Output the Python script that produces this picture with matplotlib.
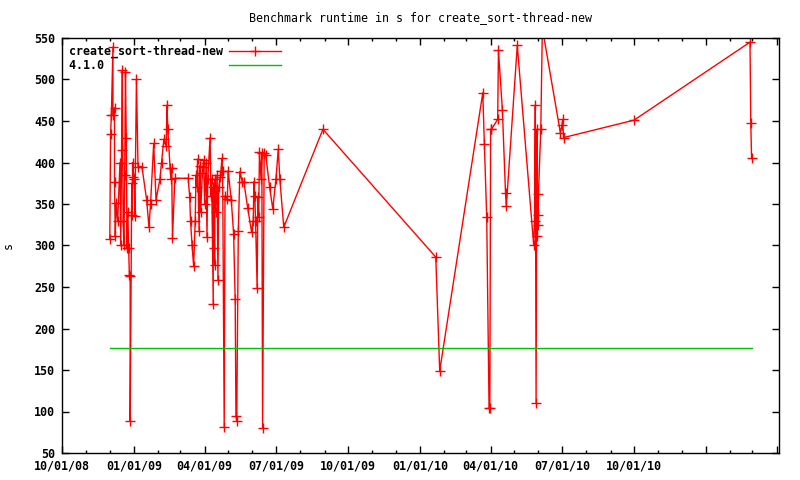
import numpy as np
import pandas as pd
import matplotlib
matplotlib.use("Agg")
import matplotlib.pyplot as plt
import matplotlib.dates as mdates

# benchmark runs (date, runtime in s), in file order
run_dates = [
    "2008-12-01", "2008-12-02", "2008-12-03", "2008-12-05", "2008-12-05", "2008-12-07",
    "2008-12-07", "2008-12-08", "2008-12-09", "2008-12-11", "2008-12-14", "2008-12-15",
    "2008-12-16", "2008-12-17", "2008-12-18", "2008-12-19", "2008-12-20", "2008-12-21",
    "2008-12-22", "2008-12-23", "2008-12-24", "2008-12-25", "2008-12-26", "2008-12-27",
    "2008-12-27", "2008-12-29", "2008-12-29", "2008-12-30", "2008-12-30",
    "2009-01-01", "2009-01-02", "2009-01-04", "2009-01-06", "2009-01-11", "2009-01-17",
    "2009-01-20", "2009-01-22", "2009-01-26", "2009-01-29", "2009-02-03", "2009-02-05",
    "2009-02-08", "2009-02-11", "2009-02-12", "2009-02-13", "2009-02-16", "2009-02-17",
    "2009-02-18", "2009-02-19", "2009-02-22", "2009-03-11", "2009-03-13", "2009-03-14",
    "2009-03-16", "2009-03-18", "2009-03-20", "2009-03-21", "2009-03-22", "2009-03-23",
    "2009-03-25", "2009-03-26", "2009-03-27", "2009-03-29", "2009-03-30", "2009-03-31",
    "2009-04-01", "2009-04-03", "2009-04-04", "2009-04-05", "2009-04-08", "2009-04-09",
    "2009-04-10", "2009-04-12", "2009-04-12", "2009-04-13", "2009-04-14", "2009-04-14",
    "2009-04-15", "2009-04-17", "2009-04-18", "2009-04-19", "2009-04-21", "2009-04-22",
    "2009-04-23", "2009-04-24", "2009-04-26", "2009-04-27", "2009-04-30", "2009-05-01",
    "2009-05-05", "2009-05-08", "2009-05-10", "2009-05-11", "2009-05-12",
    "2009-05-14", "2009-05-16", "2009-05-19", "2009-05-21", "2009-05-26", "2009-05-31",
    "2009-06-02", "2009-06-03", "2009-06-04", "2009-06-05", "2009-06-07", "2009-06-08",
    "2009-06-09", "2009-06-10", "2009-06-12", "2009-06-13", "2009-06-14",
    "2009-06-16", "2009-06-18", "2009-06-23", "2009-06-27", "2009-07-01", "2009-07-04",
    "2009-07-06", "2009-07-11", "2009-08-30", "2010-01-21", "2010-01-26",
    "2010-03-22", "2010-03-24", "2010-03-27", "2010-03-30", "2010-03-31",
    "2010-04-01", "2010-04-02", "2010-04-10", "2010-04-11",
    "2010-04-16", "2010-04-20", "2010-04-21", "2010-05-05",
    "2010-05-26", "2010-05-27", "2010-05-28", "2010-05-29", "2010-05-30", "2010-05-30",
    "2010-05-31", "2010-06-01", "2010-06-01", "2010-06-04", "2010-06-06",
    "2010-06-29", "2010-07-01", "2010-07-02", "2010-07-03", "2010-10-01", "2011-02-26",
    "2011-02-27", "2011-02-28",
]
runtimes = [
    308, 434, 457, 539, 457, 466,
    376, 311, 351, 330, 400, 300,
    415, 511, 330, 300, 385, 509,
    430, 297, 340, 297, 265, 263,
    88, 375, 337, 383, 400,
    380, 335, 500, 395, 395, 355,
    322, 350, 423, 355, 380, 400,
    428, 420, 469, 440, 393, 380,
    393, 309, 381, 381, 358, 330,
    300, 275, 330, 385, 370, 404,
    317, 396, 340, 387, 395, 403,
    350, 400, 310, 380, 430, 360,
    380, 230, 370, 297, 277, 380,
    340, 385, 258, 370, 383, 390,
    405, 390, 81, 360, 356, 390,
    355, 314, 235, 95, 89,
    318, 389, 377, 377, 345, 316,
    330, 377, 360, 330, 249, 359,
    334, 413, 380, 411, 80,
    411, 409, 370, 344, 380, 416,
    380, 322, 440, 286, 149,
    484, 422, 334, 104, 104,
    440, 440, 452, 535,
    463, 363, 347, 541,
    300, 330, 469, 110, 440, 312,
    325, 337, 362, 440, 562,
    436, 445, 452, 430, 451, 545,
    447, 405,
]

series_name = "create_sort-thread-new"
ref_name = "4.1.0"
ref_runtime = 176

x_start, x_end = "2008-10-01", "2011-04-04"
y_ticks = list(range(50, 551, 50))

dates = pd.to_datetime(run_dates)

plt.rcParams['font.family'] = ['DejaVu Sans Mono']
plt.rcParams['font.weight'] = 'bold'
plt.rcParams['font.size'] = 8.4

fig = plt.figure(figsize=(8, 4.8), dpi=100)
ax = fig.add_axes([62 / 800, 27 / 480, 717 / 800, 415 / 480])

# gnuplot puts the key text left-aligned, sample on the right
width = max(len(series_name), len(ref_name))
ax.plot(dates, runtimes, color='#ff0000', lw=1, marker='+', ms=7, mew=1,
        label=series_name.ljust(width))
ax.plot([dates[0], dates[-1]], [ref_runtime, ref_runtime], color='#00c000',
        lw=1, label=ref_name.ljust(width))

ax.set_xlim(pd.Timestamp(x_start), pd.Timestamp(x_end))
ax.set_ylim(50, 550)
ax.set_yticks(y_ticks)

ax.xaxis.set_major_locator(mdates.MonthLocator(bymonth=[1, 4, 7, 10]))
ax.xaxis.set_minor_locator(mdates.MonthLocator())
last_label = pd.Timestamp("2010-10-01")


def fmt(x, pos):
    d = mdates.num2date(x).replace(tzinfo=None)
    if d > last_label:
        return ""
    return d.strftime("%m/%d/%y")


ax.xaxis.set_major_formatter(plt.FuncFormatter(fmt))

ax.tick_params(which='both', direction='in', top=True, right=True, width=1,
               colors='black', labelsize=8.4)
ax.tick_params(which='major', length=5, pad=5)
ax.tick_params(which='minor', length=2.5)
for s in ax.spines.values():
    s.set_linewidth(1)

ax.set_ylabel("s")
ax.yaxis.set_label_coords(-0.066, 0.5)
ax.set_title("Benchmark runtime in s for create_sort-thread-new", fontsize=8.4,
             pad=12)

ax.legend(loc='upper left', frameon=False, markerfirst=False, handlelength=4.5,
          borderaxespad=0.2, labelspacing=0.1, handletextpad=0.5)

fig.savefig("out.png", dpi=100)
